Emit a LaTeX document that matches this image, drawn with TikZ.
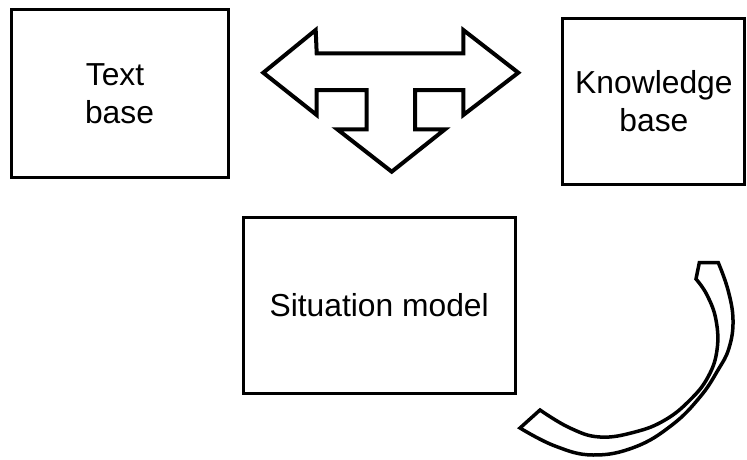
\documentclass[tikz,border=0pt]{standalone}
\usepackage{fontspec}
\setmainfont{Liberation Sans}
\begin{document}
\begin{tikzpicture}[x=1pt,y=-1pt,
  box/.style={draw=black,line width=3pt,fill=white,align=center,
    inner sep=0pt,font=\fontsize{31.8}{37.5}\selectfont},
  blockarrow/.style={draw=black,line width=4pt,line join=miter,fill=white},
  crescent/.style={draw=black,line width=3.5pt,line join=miter,fill=white}]
\useasboundingbox (0,0) rectangle (747,460);

% the three boxes
\node[box,minimum width=217pt,minimum height=167pt] (text) at (119.5,93.5) {Text\kern9pt\\base};
\node[box,minimum width=182pt,minimum height=166pt] (know) at (653.9,101.3) {Knowledge\\base};
\node[box,minimum width=271.7pt,minimum height=175.6pt] (sit) at (379.2,305.5) {Situation model};

% three-way block arrow between the upper boxes
\draw[blockarrow]
  (263.3,72.7) -- (315.7,30) -- (316.7,53.3) -- (463.3,53.3) -- (463.3,30)
  -- (518.3,72.7) -- (463.3,115) -- (463.3,90) -- (415,90) -- (415,129.3)
  -- (445,129.3) -- (391.7,171.7) -- (337.3,129.3) -- (366.7,129.3)
  -- (366.7,90) -- (316.7,90) -- (316.7,115) -- cycle;

% curved band at the lower right
\draw[crescent]
  (699.3,262.7) -- (718.3,262.7)
  -- plot[smooth,tension=0.7] coordinates {(718.3,262.7) (728,290) (733,320) (729,348)
     (718,370) (700,397) (672,425) (635,447) (593,455) (555,446) (520,428)}
  -- plot[smooth,tension=0.7] coordinates {(540,410) (570,428) (600,437) (635,432)
     (665,420) (690,400) (708,377) (717,350) (716,320) (707,295) (696,279)}
  -- cycle;
\end{tikzpicture}
\end{document}
